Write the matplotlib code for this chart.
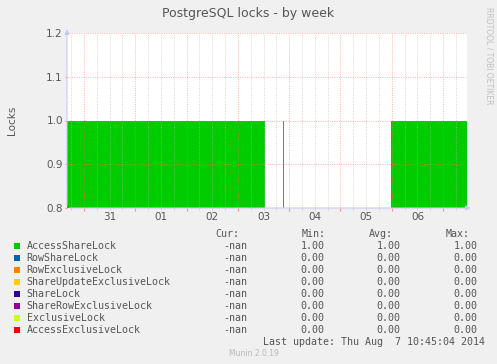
import matplotlib
matplotlib.use("Agg")
import matplotlib.pyplot as plt
from matplotlib.patches import Rectangle
from matplotlib.ticker import MultipleLocator

# time in days since Jul 31 00:00
x_start, x_end = -0.331, 7.46
day_pos = [0.5, 1.5, 2.5, 3.5, 4.5, 5.5, 6.5]
day_labels = ["31", "01", "02", "03", "04", "05", "06"]

# AccessShareLock as step series (value holds until next time)
t_access = [-0.331, 3.528, 3.875, 3.895, 5.985, 7.46]
v_access = [1, 0, 1, 0, 1, 1]

series = ["AccessShareLock", "RowShareLock", "RowExclusiveLock",
          "ShareUpdateExclusiveLock", "ShareLock", "ShareRowExclusiveLock",
          "ExclusiveLock", "AccessExclusiveLock"]
colors = ["#00CC00", "#0066B3", "#FF8000", "#FFCC00", "#330099",
          "#990099", "#CCFF00", "#FF0000"]
cur = ["-nan"] * 8
mins = [1.00, 0, 0, 0, 0, 0, 0, 0]
avgs = [1.00, 0, 0, 0, 0, 0, 0, 0]
maxs = [1.00, 0, 0, 0, 0, 0, 0, 0]

W, H = 497, 364
fig = plt.figure(figsize=(W / 100, H / 100), dpi=100, facecolor="#F0F0F0")


def px(x, y):
    return x / W, 1 - y / H


ax = fig.add_axes([67 / W, 1 - 208 / H, 399.7 / W, 175 / H])
ax.set_facecolor("white")
ax.fill_between(t_access, 0, v_access, step="post", color=colors[0], lw=0,
                antialiased=False)
ax.set_xlim(x_start, x_end)
ax.set_ylim(0.8, 1.2)

for s in ax.spines.values():
    s.set_visible(False)

ax.xaxis.set_major_locator(MultipleLocator(1))
ax.xaxis.set_minor_locator(MultipleLocator(0.25))
ax.yaxis.set_major_locator(MultipleLocator(0.1))
ax.set_axisbelow(False)
ax.grid(True, which="major", color="#ff7070", alpha=0.5, lw=0.72, ls=(0, (1, 1.3)))
ax.grid(True, which="minor", axis="x", color="#b8b8b8", alpha=0.55, lw=0.72, ls=(0, (1, 1.3)))
ax.tick_params(axis="x", which="major", length=2.5, color="#ff9090", labelbottom=False)
ax.tick_params(axis="x", which="minor", length=1.5, color="#c8c8c8")
ax.tick_params(axis="y", which="major", length=1.5, pad=1.5, color="#ff9090",
               labelsize=7.5, labelcolor="#555555")
ax.set_yticks([0.8, 0.9, 1.0, 1.1, 1.2])
ax.set_yticklabels(["0.8", "0.9", "1.0", "1.1", "1.2"])

for d, lab in zip(day_pos, day_labels):
    ax.annotate(lab, xy=(d, 0), xycoords=("data", "axes fraction"),
                xytext=(0, -6.3), textcoords="offset points",
                ha="center", va="center", fontsize=7.5, color="#555555")

# axis lines with arrows
acol = "#c8c8f0"
ax.annotate("", xy=(0, 1.037), xytext=(0, 0), xycoords="axes fraction",
            arrowprops=dict(arrowstyle="-|>", color=acol, lw=0.8, mutation_scale=7),
            annotation_clip=False)
ax.annotate("", xy=(1.017, 0), xytext=(0, 0), xycoords="axes fraction",
            arrowprops=dict(arrowstyle="-|>", color=acol, lw=0.8, mutation_scale=7),
            annotation_clip=False)

fig.text(*px(248.5, 13), "PostgreSQL locks - by week", ha="center", va="center",
         fontsize=9, color="#555555")
fig.text(*px(12, 120.5), "Locks", rotation=90, ha="center", va="center",
         fontsize=7.5, color="#555555")
fig.text(*px(488.5, 56), "RRDTOOL / TOBI OETIKER", rotation=270, ha="center",
         va="center", fontsize=5.5, color="#c0c0c0")

mono = dict(family="DejaVu Sans Mono", fontsize=7.2, color="#555555", va="center")
hy = 233.7
fig.text(*px(239.5, hy), "Cur:", ha="right", **mono)
fig.text(*px(326, hy), "Min:", ha="right", **mono)
fig.text(*px(393, hy), "Avg:", ha="right", **mono)
fig.text(*px(469.5, hy), "Max:", ha="right", **mono)

for i, name in enumerate(series):
    y = 245.7 + 12 * i
    fig.add_artist(Rectangle(px(14, y + 3), 6 / W, 6 / H, transform=fig.transFigure,
                             facecolor=colors[i], edgecolor="none"))
    fig.text(*px(26.5, y), name, ha="left", **mono)
    fig.text(*px(247, y), cur[i], ha="right", **mono)
    fig.text(*px(324.5, y), f"{mins[i]:.2f}", ha="right", **mono)
    fig.text(*px(400.5, y), f"{avgs[i]:.2f}", ha="right", **mono)
    fig.text(*px(477.5, y), f"{maxs[i]:.2f}", ha="right", **mono)

fig.text(*px(485, 342.3), "Last update: Thu Aug  7 10:45:04 2014", ha="right", **mono)
fig.text(*px(253.5, 353), "Munin 2.0.19", ha="center", va="center",
         fontsize=5.5, color="#b8b8b8")

fig.savefig("out.png", dpi=100, facecolor=fig.get_facecolor())
